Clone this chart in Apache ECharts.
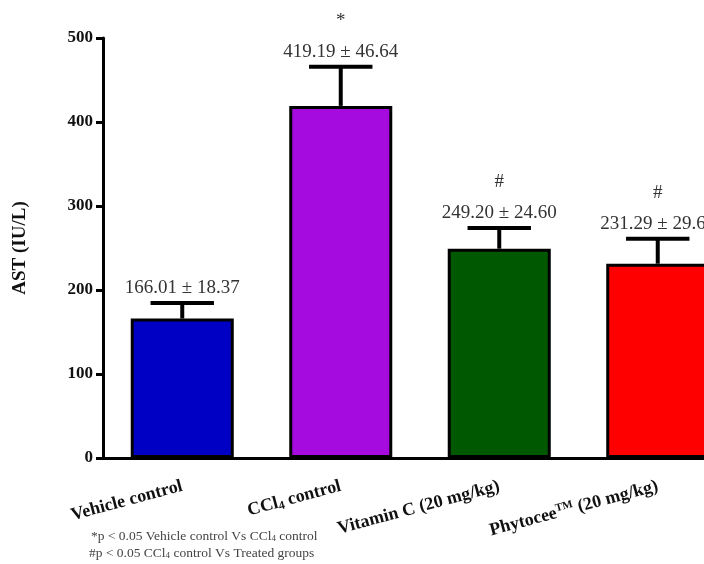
<!DOCTYPE html>
<html>
<head>
<meta charset="utf-8">
<script src="https://cdn.jsdelivr.net/npm/echarts@6/dist/echarts.min.js"></script>
<style>
  html, body { margin: 0; padding: 0; overflow: hidden; background: #fff; }
  #chart { width: 740px; height: 564px; }
</style>
</head>
<body>
<div id="chart"></div>
<script>
const categories = ['Vehicle control', 'CCl4 control', 'Vitamin C (20 mg/kg)', 'Phytocee (20 mg/kg)']
const means = [166.01, 419.19, 249.20, 231.29]
const sems = [18.37, 46.64, 24.60, 29.60]
const marks = ['', '*', '#', '#']
const barColors = ['#0000C4', '#A50ADF', '#005800', '#FF0000']
const yTicks = [0, 100, 200, 300, 400, 500]

const serif = '"Liberation Serif", "Times New Roman", serif'

const labelRich = {
  b: { fontFamily: serif, fontWeight: 'bold', fontSize: 18, color: '#111', lineHeight: 20 },
  sub: { fontFamily: serif, fontWeight: 'bold', fontSize: 12, color: '#111', lineHeight: 10, verticalAlign: 'bottom' },
  sup: { fontFamily: serif, fontWeight: 'bold', fontSize: 11, color: '#111', lineHeight: 10, verticalAlign: 'top' }
}

function catLabel(name) {
  if (name === 'CCl4 control') return '{b|CCl}{sub|4}{b| control}'
  if (name.indexOf('Phytocee') === 0) return '{b|Phytocee}{sup|TM}{b| (20 mg/kg)}'
  return '{b|' + name + '}'
}

const chart = echarts.init(document.getElementById('chart'))

chart.setOption({
  animation: false,
  backgroundColor: '#fff',
  grid: { left: 103, top: 38, bottom: 106, right: 3 },
  xAxis: {
    type: 'category',
    data: categories,
    axisLine: { lineStyle: { color: '#000', width: 3 } },
    axisTick: { alignWithLabel: true, length: 6, lineStyle: { color: '#000', width: 2 } },
    axisLabel: {
      rotate: 15,
      margin: 28,
      interval: 0,
      formatter: catLabel,
      rich: labelRich
    }
  },
  yAxis: {
    type: 'value',
    min: 0,
    max: 500,
    interval: 100,
    name: 'AST (IU/L)',
    nameLocation: 'middle',
    nameGap: 73,
    nameTextStyle: { fontFamily: serif, fontWeight: 'bold', fontSize: 19, color: '#111' },
    splitLine: { show: false },
    axisLine: { show: true, lineStyle: { color: '#000', width: 3 } },
    axisTick: { show: true, length: 7, lineStyle: { color: '#000', width: 3 } },
    axisLabel: {
      margin: 10,
      fontFamily: serif,
      fontWeight: 'bold',
      fontSize: 17,
      color: '#111',
      formatter: v => (yTicks.indexOf(v) >= 0 ? String(v) : '')
    }
  },
  series: [
    {
      type: 'bar',
      barWidth: '65%',
      data: means.map((m, i) => ({
        value: m,
        itemStyle: { color: barColors[i], borderColor: '#000', borderWidth: 3 }
      })),
      z: 2
    },
    {
      type: 'custom',
      z: 5,
      data: means.map((m, i) => [i, m, sems[i]]),
      renderItem: function (params, api) {
        const i = api.value(0)
        const m = api.value(1)
        const e = api.value(2)
        const base = api.coord([i, m])
        const top = api.coord([i, m + e])
        const half = api.size([1, 0])[0] * 0.2
        const children = [
          { type: 'line', shape: { x1: base[0], y1: base[1], x2: top[0], y2: top[1] },
            style: { stroke: '#000', lineWidth: 4 } },
          { type: 'line', shape: { x1: top[0] - half, y1: top[1], x2: top[0] + half, y2: top[1] },
            style: { stroke: '#000', lineWidth: 4 } },
          { type: 'text', x: top[0], y: top[1] - 15,
            style: { text: m.toFixed(2) + ' \u00b1 ' + e.toFixed(2), align: 'center', verticalAlign: 'middle',
              fontFamily: serif, fontSize: 19, fill: '#333' } }
        ]
        if (marks[params.dataIndex]) {
          children.push({ type: 'text', x: top[0], y: top[1] - 46,
            style: { text: marks[params.dataIndex], align: 'center', verticalAlign: 'middle',
              fontFamily: serif, fontSize: 19, fill: '#333' } })
        }
        return { type: 'group', children: children }
      }
    }
  ],
  graphic: [
    {
      type: 'text', left: 91, top: 529,
      style: {
        text: '{t|*p < 0.05 Vehicle control Vs CCl}{s|4}{t| control}',
        rich: {
          t: { fontFamily: serif, fontSize: 13.5, fill: '#444', lineHeight: 15 },
          s: { fontFamily: serif, fontSize: 9, fill: '#444', lineHeight: 9, verticalAlign: 'bottom' }
        }
      }
    },
    {
      type: 'text', left: 89, top: 546,
      style: {
        text: '{t|#p < 0.05 CCl}{s|4}{t| control Vs Treated groups}',
        rich: {
          t: { fontFamily: serif, fontSize: 13.5, fill: '#444', lineHeight: 15 },
          s: { fontFamily: serif, fontSize: 9, fill: '#444', lineHeight: 9, verticalAlign: 'bottom' }
        }
      }
    }
  ]
})
</script>
</body>
</html>
